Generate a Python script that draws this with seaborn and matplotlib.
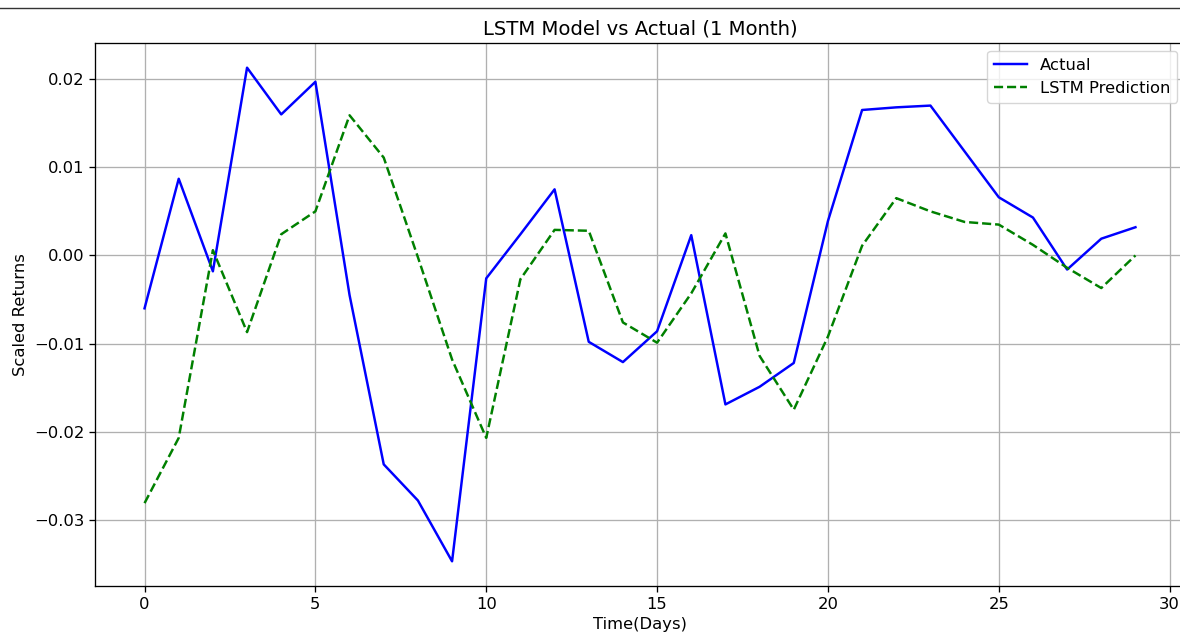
import matplotlib
matplotlib.use("Agg")
import matplotlib.pyplot as plt
from matplotlib.lines import Line2D
import seaborn as sns
import numpy as np

days = list(range(30))
actual = [-0.0060, 0.0087, -0.0018, 0.0213, 0.0160, 0.0197, -0.0045, -0.0237, -0.0278, -0.0347,
          -0.0026, 0.0024, 0.0075, -0.0098, -0.0121, -0.0086, 0.0023, -0.0169, -0.0149, -0.0122,
          0.0039, 0.0165, 0.0168, 0.0170, 0.0118, 0.0066, 0.0043, -0.0016, 0.0019, 0.0032]
lstm_pred = [-0.0281, -0.0207, 0.0006, -0.0087, 0.0024, 0.0050, 0.0159, 0.0111, -0.0002, -0.0118,
             -0.0207, -0.0027, 0.0029, 0.0028, -0.0076, -0.0099, -0.0043, 0.0025, -0.0114, -0.0175,
             -0.0092, 0.0011, 0.0065, 0.0050, 0.0038, 0.0035, 0.0012, -0.0014, -0.0037, 0.0000]

s = 1.18
plt.rcParams.update({
    "font.size": 10 * s,
    "axes.titlesize": 12 * s,
    "axes.labelsize": 10 * s,
    "xtick.labelsize": 10 * s,
    "ytick.labelsize": 10 * s,
    "legend.fontsize": 10 * s,
    "axes.linewidth": 0.8 * s,
    "xtick.major.width": 0.8 * s,
    "ytick.major.width": 0.8 * s,
    "xtick.major.size": 3.5 * s,
    "ytick.major.size": 3.5 * s,
    "grid.linewidth": 0.8 * s,
})

W, H = 1180, 635
fig = plt.figure(figsize=(W / 100, H / 100), dpi=100)
ax = fig.add_axes([95 / W, 1 - 586 / H, (1185 - 95) / W, (586 - 43) / H])

sns.lineplot(x=days, y=actual, color="blue", label="Actual", ax=ax, linewidth=1.5 * s)
sns.lineplot(x=days, y=lstm_pred, color="green", linestyle="--", label="LSTM Prediction", ax=ax, linewidth=1.5 * s)

ax.set_title("LSTM Model vs Actual (1 Month)")
ax.set_xlabel("Time(Days)")
ax.set_ylabel("Scaled Returns")
ax.grid(True)
ax.legend(loc="upper right")

fig.add_artist(Line2D([0, 1], [1 - 8 / H, 1 - 8 / H], transform=fig.transFigure, color="#333333", linewidth=1))

fig.savefig("out.png", dpi=100)
